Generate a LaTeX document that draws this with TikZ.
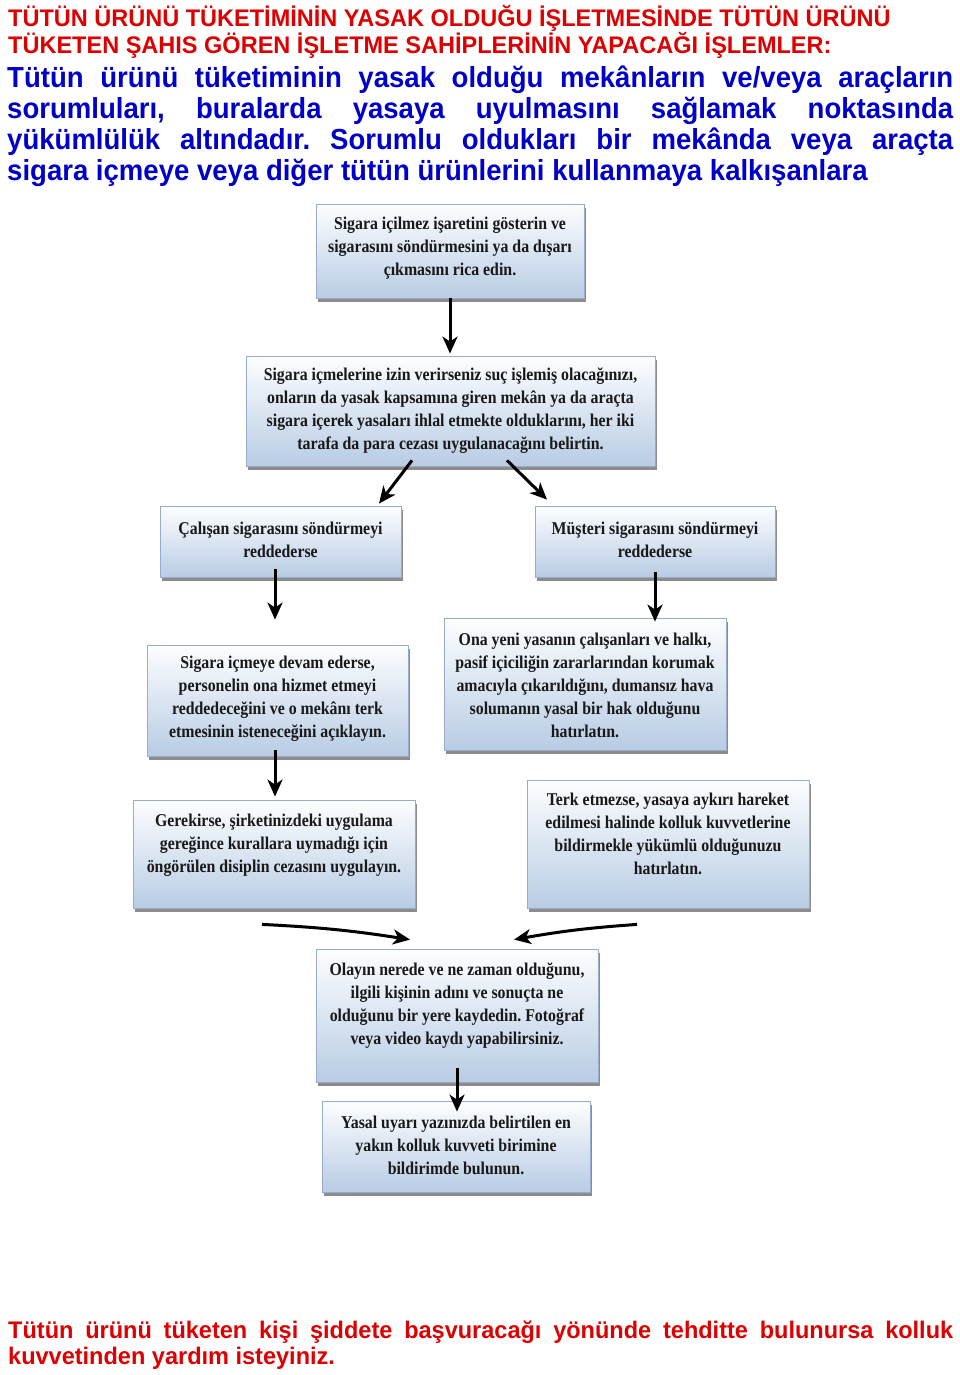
\documentclass[tikz,border=0pt]{standalone}
\usepackage{fontspec}
\usetikzlibrary{arrows.meta,shadows,calc}
\newfontfamily\hdrfont[FakeStretch=0.98]{Liberation Sans}
\newfontfamily\bluefont[FakeStretch=0.95]{Liberation Sans}
\newfontfamily\boxfont[FakeStretch=0.88]{Liberation Serif}
\definecolor{hred}{RGB}{222,0,0}
\definecolor{hblue}{RGB}{0,0,200}
\definecolor{boxtop}{RGB}{253,254,255}
\definecolor{boxbot}{RGB}{184,204,228}
\definecolor{boxline}{RGB}{150,172,202}
\tikzset{
  box/.style={draw=boxline, line width=0.8pt, top color=boxtop, bottom color=boxbot,
    drop shadow={shadow xshift=1.5pt, shadow yshift=-3.5pt, fill=black!45, opacity=1},
    inner sep=0pt},
  txt/.style={align=center, inner sep=0pt, text=black!90,
    font=\boxfont\bfseries\fontsize{18}{23}\selectfont},
  redline/.style={anchor=base west, inner sep=0pt, text=hred,
    font=\hdrfont\bfseries\fontsize{24}{27}\selectfont},
  blueline/.style={anchor=base west, inner sep=0pt, text=hblue,
    font=\bluefont\bfseries\fontsize{29}{31}\selectfont},
  arr/.style={line width=3pt, draw=black, -{Stealth[length=17pt,width=15pt,inset=5pt]}}
}
\begin{document}
\frenchspacing
\begin{tikzpicture}[x=1pt,y=-1pt]
\useasboundingbox[fill=white] (0,0) rectangle (960,1375);
% header
\node[redline] (r1) at (8,27) {TÜTÜN ÜRÜNÜ TÜKETİMİNİN YASAK OLDUĞU İŞLETMESİNDE TÜTÜN ÜRÜNÜ};
\node[redline] (r2) at (8,54) {TÜKETEN ŞAHIS GÖREN İŞLETME SAHİPLERİNİN YAPACAĞI İŞLEMLER:};
\node[blueline] (p1) at (7,88) {\makebox[946pt][s]{Tütün ürünü tüketiminin yasak olduğu mekânların ve/veya araçların}};
\node[blueline] (p2) at (7,119) {\makebox[946pt][s]{sorumluları, buralarda yasaya uyulmasını sağlamak noktasında}};
\node[blueline] (p3) at (7,150) {\makebox[946pt][s]{yükümlülük altındadır. Sorumlu oldukları bir mekânda veya araçta}};
\node[blueline] (p4) at (7,181) {sigara içmeye veya diğer tütün ürünlerini kullanmaya kalkışanlara};
% boxes
\node[box, minimum width=268pt, minimum height=94pt] (b1) at (450,251) {};
\node[box, minimum width=409pt, minimum height=110pt] (b2) at (450.5,411) {};
\node[box, minimum width=241pt, minimum height=71pt] (b3) at (280.5,541.5) {};
\node[box, minimum width=240pt, minimum height=71pt] (b4) at (655,541.5) {};
\node[box, minimum width=261pt, minimum height=111pt] (b5) at (277.5,700.5) {};
\node[box, minimum width=282pt, minimum height=132pt] (b6) at (585,684) {};
\node[box, minimum width=282pt, minimum height=108pt] (b7) at (274,854) {};
\node[box, minimum width=282pt, minimum height=128pt] (b8) at (668,844) {};
\node[box, minimum width=282pt, minimum height=133pt] (b9) at (457,1015.5) {};
\node[box, minimum width=268pt, minimum height=91pt] (b10) at (456,1146.5) {};
% box texts
\node[txt] (t1) at ($(b1.center)+(0,-3)$) {Sigara içilmez işaretini gösterin ve\\sigarasını söndürmesini ya da dışarı\\çıkmasını rica edin.};
\node[txt] (t2) at (b2.center) {Sigara içmelerine izin verirseniz suç işlemiş olacağınızı,\\onların da yasak kapsamına giren mekân ya da araçta\\sigara içerek yasaları ihlal etmekte olduklarını, her iki\\tarafa da para cezası uygulanacağını belirtin.};
\node[txt] (t3) at ($(b3.center)+(0,-2)$) {Çalışan sigarasını söndürmeyi\\reddederse};
\node[txt] (t4) at ($(b4.center)+(0,-2)$) {Müşteri sigarasını söndürmeyi\\reddederse};
\node[txt] (t5) at ($(b5.center)+(0,-2)$) {Sigara içmeye devam ederse,\\personelin ona hizmet etmeyi\\reddedeceğini ve o mekânı terk\\etmesinin isteneceğini açıklayın.};
\node[txt] (t6) at ($(b6.center)+(0,1)$) {Ona yeni yasanın çalışanları ve halkı,\\pasif içiciliğin zararlarından korumak\\amacıyla çıkarıldığını, dumansız hava\\solumanın yasal bir hak olduğunu\\hatırlatın.};
\node[txt] (t7) at ($(b7.center)+(0,-9)$) {Gerekirse, şirketinizdeki uygulama\\gereğince kurallara uymadığı için\\öngörülen disiplin cezasını uygulayın.};
\node[txt] (t8) at ($(b8.center)+(0,-10)$) {Terk etmezse, yasaya aykırı hareket\\edilmesi halinde kolluk kuvvetlerine\\bildirmekle yükümlü olduğunuzu\\hatırlatın.};
\node[txt] (t9) at ($(b9.center)+(0,-10)$) {Olayın nerede ve ne zaman olduğunu,\\ilgili kişinin adını ve sonuçta ne\\olduğunu bir yere kaydedin. Fotoğraf\\veya video kaydı yapabilirsiniz.};
\node[txt] (t10) at ($(b10.center)+(0,-1)$) {Yasal uyarı yazınızda belirtilen en\\yakın kolluk kuvveti birimine\\bildirimde bulunun.};
% connectors
\draw[arr] (b1.south) -- ($(b2.north)+(-0.5,-2)$);
\draw[arr] ($(b2.south)+(-38.5,-6)$) -- ($(b3.north)+(98.5,-2)$);
\draw[arr] ($(b2.south)+(56.5,-6)$) -- ($(b4.north)+(-108,-6)$);
\draw[arr] ($(b3.south)+(-5.5,-8)$) -- ($(b5.north)+(-2.5,-25)$);
\draw[arr] ($(b4.south)+(0,-5)$) -- ($(b6.north)+(70,4)$);
\draw[arr] ($(b5.south)+(-2.5,-6)$) -- ($(b7.north)+(1,-3)$);
\draw[arr] ($(b7.south)+(-12,16)$) to[bend left=3] ($(b9.north)+(-47,-9)$);
\draw[arr] ($(b8.south)+(-31,16)$) to[bend right=3] ($(b9.north)+(57,-9)$);
\draw[arr] ($(b9.south)+(0,-14)$) -- ($(b10.north)+(1,11)$);
% footer
\node[redline] (f1) at (8,1338) {\makebox[945pt][s]{Tütün ürünü tüketen kişi şiddete başvuracağı yönünde tehditte bulunursa kolluk}};
\node[redline] (f2) at (8,1364) {kuvvetinden yardım isteyiniz.};
\end{tikzpicture}
\end{document}
